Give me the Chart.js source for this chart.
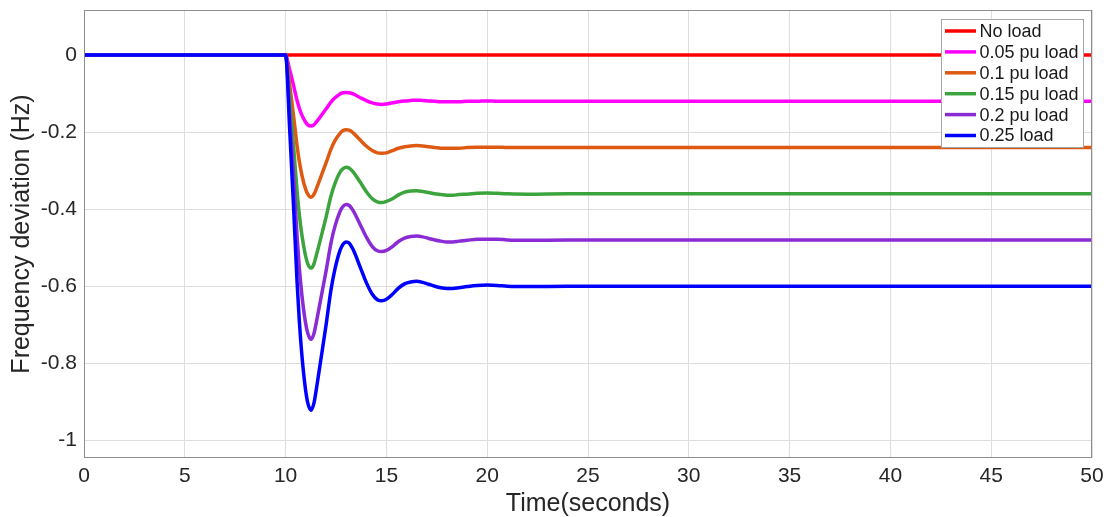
<!DOCTYPE html>
<html>
<head>
<meta charset="utf-8">
<script src="https://cdn.jsdelivr.net/npm/chart.js@4.4.1/dist/chart.umd.min.js"></script>
<style>
  html, body { margin:0; padding:0; background:#fff; }
  #wrap { width:1110px; height:517px; position:relative; }
</style>
</head>
<body>
<div id="wrap"><canvas id="freqChart"></canvas></div>
<script>
// --------- Daten ---------
const timeS = [0, 10, 10.2, 10.4, 10.57, 10.68, 10.81, 10.98, 11.1, 11.26, 11.4, 11.52, 11.77, 12.02, 12.25, 12.45,
  12.7, 12.85, 13.0, 13.15, 13.35, 13.69, 14.0, 14.3, 14.55, 14.77, 15.0, 15.3, 15.6, 15.9, 16.2, 16.5, 16.8, 17.1,
  17.4, 17.7, 18.0, 18.3, 18.6, 19.0, 19.5, 20.0, 20.5, 21.0, 22.0, 24.0, 50];

const noLoadTime = [0, 50];
const noLoad     = [0, 0];

const load005 = [0, 0, -0.038, -0.080, -0.118, -0.138, -0.156, -0.173, -0.181, -0.184, -0.181, -0.174, -0.157,
  -0.139, -0.122, -0.111, -0.101, -0.098, -0.097,
  -0.098, -0.101, -0.110, -0.118, -0.124, -0.127, -0.128, -0.127, -0.124, -0.121, -0.119, -0.118, -0.117, -0.118,
  -0.119, -0.120, -0.121, -0.121, -0.121, -0.121, -0.120, -0.120, -0.119, -0.120, -0.120, -0.120, -0.120, -0.120];

const load010 = [0, 0, -0.076, -0.160, -0.236, -0.276, -0.312, -0.346, -0.361, -0.369, -0.362, -0.348, -0.313,
  -0.278, -0.244, -0.222, -0.203, -0.196, -0.194,
  -0.195, -0.202, -0.220, -0.236, -0.248, -0.254, -0.255, -0.254, -0.248, -0.242, -0.238, -0.236, -0.235, -0.236,
  -0.238, -0.240, -0.242, -0.242, -0.242, -0.242, -0.240, -0.239, -0.239, -0.239, -0.240, -0.240, -0.240, -0.240];

const load015 = [0, 0, -0.114, -0.240, -0.354, -0.414, -0.468, -0.519, -0.542, -0.553, -0.543, -0.521, -0.470,
  -0.418, -0.366, -0.333, -0.304, -0.295, -0.291,
  -0.293, -0.303, -0.329, -0.354, -0.373, -0.381, -0.383, -0.380, -0.373, -0.363, -0.356, -0.353, -0.352, -0.354,
  -0.357, -0.360, -0.362, -0.364, -0.364, -0.362, -0.361, -0.359, -0.358, -0.359, -0.360, -0.361, -0.360, -0.360];

const load020 = [0, 0, -0.152, -0.320, -0.472, -0.552, -0.624, -0.692, -0.722, -0.738, -0.724, -0.695, -0.626,
  -0.557, -0.488, -0.444, -0.406, -0.393, -0.388,
  -0.390, -0.404, -0.439, -0.472, -0.497, -0.508, -0.510, -0.507, -0.497, -0.484, -0.475, -0.471, -0.470, -0.472,
  -0.476, -0.480, -0.483, -0.485, -0.485, -0.483, -0.481, -0.478, -0.478, -0.478, -0.480, -0.481, -0.480, -0.480];

const load025 = [0, 0, -0.19, -0.40, -0.59, -0.69, -0.78, -0.865, -0.903, -0.922, -0.905, -0.869, -0.783,
  -0.696, -0.61, -0.555, -0.507, -0.491, -0.485,
  -0.488, -0.505, -0.549, -0.590, -0.621, -0.635, -0.638, -0.634, -0.621, -0.605, -0.594, -0.589, -0.587, -0.590,
  -0.595, -0.600, -0.604, -0.606, -0.606, -0.604, -0.601, -0.598, -0.597, -0.598, -0.600, -0.601, -0.600, -0.600];

const seriesNames  = ['No load', '0.05 pu load', '0.1 pu load', '0.15 pu load', '0.2 pu load', '0.25 load'];
const seriesColors = ['#FF0000', '#FF00FF', '#DE5A12', '#3CA43C', '#8A2BD6', '#0000FF'];

const xTickValues = [0, 5, 10, 15, 20, 25, 30, 35, 40, 45, 50];
const yTickValues = [0, -0.2, -0.4, -0.6, -0.8, -1];

// Helpers
const FONT = '"Liberation Sans", Arial, Helvetica, sans-serif';
const pts  = (xs, ys) => xs.map((x, i) => ({x, y: ys[i]}));
const fmt  = v => String(Number(v.toFixed(2)));

const seriesData = [
  pts(noLoadTime, noLoad),
  pts(timeS, load005),
  pts(timeS, load010),
  pts(timeS, load015),
  pts(timeS, load020),
  pts(timeS, load025)
];

// Rahmen + Legende (MATLAB-Stil, Box innen oben rechts)
const framePlugin = {
  id: 'frameAndLegend',
  afterDatasetsDraw(chart){
    const {ctx, chartArea: a} = chart;
    ctx.save();
    ctx.strokeStyle = '#8c8c8c';
    ctx.lineWidth = 1;
    ctx.strokeRect(Math.round(a.left) + 0.5, Math.round(a.top) + 0.5,
      Math.round(a.right - a.left) - 1, Math.round(a.bottom - a.top) - 1);

    // Legende
    const w = 142, h = 128;
    const lx = Math.round(a.right) - 9 - w, ly = Math.round(a.top) + 9;
    ctx.fillStyle = '#fff';
    ctx.fillRect(lx, ly, w, h);
    ctx.strokeStyle = '#a6a6a6';
    ctx.strokeRect(lx + 0.5, ly + 0.5, w, h);
    ctx.font = '18px ' + FONT;
    ctx.textBaseline = 'middle';
    ctx.textAlign = 'left';
    seriesNames.forEach((name, i) => {
      const cy = ly + 12 + i * 20.9;
      ctx.strokeStyle = seriesColors[i];
      ctx.lineWidth = 3.5;
      ctx.beginPath();
      ctx.moveTo(lx + 4, cy);
      ctx.lineTo(lx + 35, cy);
      ctx.stroke();
      ctx.fillStyle = '#1a1a1a';
      ctx.fillText(name, lx + 38.5, cy + 1);
    });
    ctx.restore();
  }
};

new Chart(document.getElementById('freqChart'), {
  type: 'line',
  data: {
    datasets: seriesData.map((d, i) => ({
      label: seriesNames[i],
      data: d,
      borderColor: seriesColors[i],
      backgroundColor: seriesColors[i],
      borderWidth: 3.5,
      pointRadius: 0,
      fill: false,
      cubicInterpolationMode: 'monotone',
      order: seriesNames.length - i      // letzte Serie oben
    }))
  },
  options: {
    responsive: true,
    maintainAspectRatio: false,
    animation: false,
    parsing: false,
    layout: { padding: { top: 10, right: 18, left: 0, bottom: 0 } },
    plugins: { legend: { display: false }, tooltip: { enabled: false } },
    scales: {
      x: {
        type: 'linear', min: 0, max: 50,
        afterBuildTicks: s => { s.ticks = xTickValues.map(v => ({value: v})); },
        afterFit: s => { s.height = 59; },
        grid: { color: '#dedede', drawTicks: false },
        border: { display: false },
        ticks: { color: '#262626', padding: 6, maxRotation: 0,
                 font: { family: FONT, size: 21, lineHeight: 1.2 }, callback: v => fmt(v) },
        title: { display: true, text: 'Time(seconds)', color: '#262626',
                 font: { family: FONT, size: 25, lineHeight: 1 }, padding: { top: 0, bottom: 0 } }
      },
      y: {
        type: 'linear', min: -1.046, max: 0.117,
        afterBuildTicks: s => { s.ticks = yTickValues.map(v => ({value: v})); },
        afterFit: s => { s.width = 84; s.paddingTop = 0; s.paddingBottom = 0; },
        grid: { color: '#dedede', drawTicks: false },
        border: { display: false },
        ticks: { color: '#262626', padding: 7,
                 font: { family: FONT, size: 21 }, callback: v => fmt(v) },
        title: { display: true, text: 'Frequency deviation (Hz)', color: '#262626',
                 font: { family: FONT, size: 25, lineHeight: 1 }, padding: { top: 9.5, bottom: 0 } }
      }
    }
  },
  plugins: [framePlugin]
});
</script>
</body>
</html>
